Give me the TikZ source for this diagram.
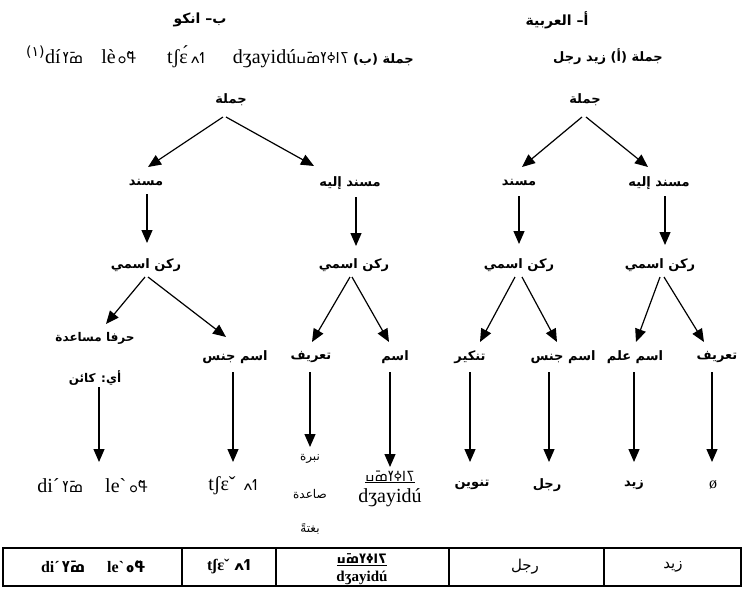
\documentclass[tikz,border=0pt]{standalone}
\usepackage{fontspec}
\usetikzlibrary{arrows.meta,calc}
\setmainfont{Liberation Serif}
\newfontfamily\ar[Script=Arabic]{DejaVu Sans}
\newfontfamily\nko{DejaVu Sans}
\TeXXeTstate=1
\newcommand\AR[1]{{\ar\beginR #1\endR}}
\newcommand\NK[1]{{\nko\fontsize{15}{17}\selectfont #1}}
\begin{document}
\begin{tikzpicture}[x=1pt,y=-1pt,
  lab/.style={inner sep=0pt, font=\ar\bfseries\fontsize{13}{15}\selectfont},
  ttl/.style={inner sep=0pt, font=\ar\bfseries\fontsize{14}{16}\selectfont},
  small/.style={inner sep=0pt, font=\ar\fontsize{12}{14}\selectfont},
  latin/.style={inner sep=0pt, font=\fontsize{20}{22}\selectfont},
  cell/.style={inner sep=0pt, font=\bfseries\fontsize{16}{18}\selectfont},
  arr/.style={line width=1.2pt, -{Triangle[length=13pt,width=11pt]}}]
\useasboundingbox (0,0) rectangle (744,590);
% titles
\node[ttl] (tb) at (200,20) {\AR{ب– انكو}};
\node[ttl] (ta) at (557,20) {\AR{أ– العربية}};
\node[latin, anchor=east] (sb) at (414,57) {\textsuperscript{\ar(١)}dí\hspace{2pt}\NK{ߘߌ߫}\hspace{18pt}lè\hspace{2pt}\NK{ߟߋ߬}\hspace{30pt}tʃɛ́\hspace{3pt}\NK{ߗߍ}\hspace{28pt}dʒayidú\NK{ߖߊߦߌߘߎ߫}\hspace{4pt}{\ar\bfseries\fontsize{13}{15}\selectfont\beginR جملة (ب)\endR}};
\node[ttl, font=\ar\bfseries\fontsize{13}{15}\selectfont] (sa) at (608,57) {\AR{جملة (أ) زيد رجل}};
% left tree
\node[lab] (j1) at (231,100) {\AR{جملة}};
\node[lab] (m1) at (146,183) {\AR{مسند}};
\node[lab] (mi1) at (350,183) {\AR{مسند إليه}};
\node[lab] (r1) at (146,265) {\AR{ركن اسمي}};
\node[lab] (r2) at (354,265) {\AR{ركن اسمي}};
\node[lab, font=\ar\bfseries\fontsize{12}{14}\selectfont] (h1) at (95,338) {\AR{حرفا مساعدة}};
\node[lab, font=\ar\bfseries\fontsize{12}{14}\selectfont] (ay1) at (95,378) {\AR{أي: كائن}};
\node[lab] (ij1) at (235,357) {\AR{اسم جنس}};
\node[lab] (t1) at (311,357) {\AR{تعريف}};
\node[lab] (i1) at (395,357) {\AR{اسم}};
\node[latin] (l1) at (93,486) {di´\hspace{3pt}\NK{ߘߌ߫}\hspace{22pt}leˋ\hspace{3pt}\NK{ߟߋ߬}};
\node[latin] (l2) at (233,486) {tʃɛˇ\hspace{8pt}\NK{ߗߍ}};
\node[small] (nb) at (310,459) {\AR{نبرة}};
\node[small] (sd) at (310,494) {\AR{صاعدة}};
\node[small] (bg) at (310,529) {\AR{بغتةً}};
\node[inner sep=0pt, font=\nko\fontsize{14}{16}\selectfont] (zk) at (390,477) {\underline{ߖߊߦߌߘߎ߫}};
\node[latin] (zl) at (390,498) {dʒayidú};
% right tree
\node[lab] (j2) at (585,100) {\AR{جملة}};
\node[lab] (m2) at (519,183) {\AR{مسند}};
\node[lab] (mi2) at (659,183) {\AR{مسند إليه}};
\node[lab] (r3) at (519,265) {\AR{ركن اسمي}};
\node[lab] (r4) at (660,265) {\AR{ركن اسمي}};
\node[lab] (tk) at (470,357) {\AR{تنكير}};
\node[lab] (ij2) at (563,357) {\AR{اسم جنس}};
\node[lab] (al) at (635,357) {\AR{اسم علم}};
\node[lab] (ta2) at (717,357) {\AR{تعريف}};
\node[lab] (tn) at (472,485) {\AR{تنوين}};
\node[lab] (rj) at (547,485) {\AR{رجل}};
\node[lab] (zy) at (634,485) {\AR{زيد}};
\node[inner sep=0pt, font=\fontsize{16}{18}\selectfont] (ze) at (713,485) {ø};
% connectors left
\draw[arr] ($(j1)+(-8,17)$) -- ($(m1)+(2,-16)$);
\draw[arr] ($(j1)+(-5,17)$) -- ($(mi1)+(-36,-17)$);
\draw[arr] ($(m1)+(1,11)$) -- ($(r1)+(1,-22)$);
\draw[arr] ($(mi1)+(6,14)$) -- ($(r2)+(2,-19)$);
\draw[arr] ($(r1)+(-1,12)$) -- ($(h1)+(11,-14)$);
\draw[arr] ($(r1)+(2,12)$) -- ($(ij1)+(-9,-20)$);
\draw[arr] ($(r2)+(-4,12)$) -- ($(t1)+(1,-15)$);
\draw[arr] ($(r2)+(-2,12)$) -- ($(i1)+(-6,-15)$);
\draw[arr] ($(ay1)+(4,9)$) -- ($(l1)+(6,-24)$);
\draw[arr] ($(ij1)+(-2,15)$) -- ($(l2)+(0,-24)$);
\draw[arr] ($(t1)+(-1,15)$) -- ($(nb)+(0,-12)$);
\draw[arr] ($(i1)+(-5,15)$) -- ($(zk)+(0,-10)$);
% connectors right
\draw[arr] ($(j2)+(-3,17)$) -- ($(m2)+(3,-16)$);
\draw[arr] ($(j2)+(1,17)$) -- ($(mi2)+(-11,-16)$);
\draw[arr] ($(m2)+(0,13)$) -- ($(r3)+(0,-21)$);
\draw[arr] ($(mi2)+(6,13)$) -- ($(r4)+(5,-20)$);
\draw[arr] ($(r3)+(-4,12)$) -- ($(tk)+(10,-15)$);
\draw[arr] ($(r3)+(3,12)$) -- ($(ij2)+(-6,-15)$);
\draw[arr] ($(r4)+(0,12)$) -- ($(al)+(1,-15)$);
\draw[arr] ($(r4)+(4,12)$) -- ($(ta2)+(-13,-15)$);
\draw[arr] ($(tk)+(0,15)$) -- ($(tn)+(-2,-23)$);
\draw[arr] ($(ij2)+(-14,15)$) -- ($(rj)+(2,-23)$);
\draw[arr] ($(al)+(-1,15)$) -- ($(zy)+(0,-23)$);
\draw[arr] ($(ta2)+(-5,15)$) -- ($(ze)+(-1,-23)$);
% table
\draw[line width=1.2pt] (3,548) rectangle (741,586);
\draw[line width=1.2pt] (182,548) -- (182,586) (276,548) -- (276,586) (449,548) -- (449,586) (604,548) -- (604,586);
\node[cell] (c1) at (93,567) {di´\hspace{2pt}\NK{\bfseries ߘߌ߫}\hspace{22pt}leˋ\hspace{2pt}\NK{\bfseries ߟߋ߬}};
\node[cell] (c2) at (229,567) {tʃɛˇ\hspace{5pt}\NK{\bfseries ߗߍ}};
\node[inner sep=0pt, font=\nko\bfseries\fontsize{13}{15}\selectfont] (c3a) at (362,560) {\underline{ߖߊߦߌߘߎ߫}};
\node[cell, font=\bfseries\fontsize{15}{17}\selectfont] (c3b) at (362,578) {dʒayidú};
\node[inner sep=0pt, font=\ar\fontsize{15}{17}\selectfont] (c4) at (525,567) {رجل};
\node[inner sep=0pt, font=\ar\fontsize{15}{17}\selectfont] (c5) at (673,567) {زيد};
\end{tikzpicture}
\end{document}
